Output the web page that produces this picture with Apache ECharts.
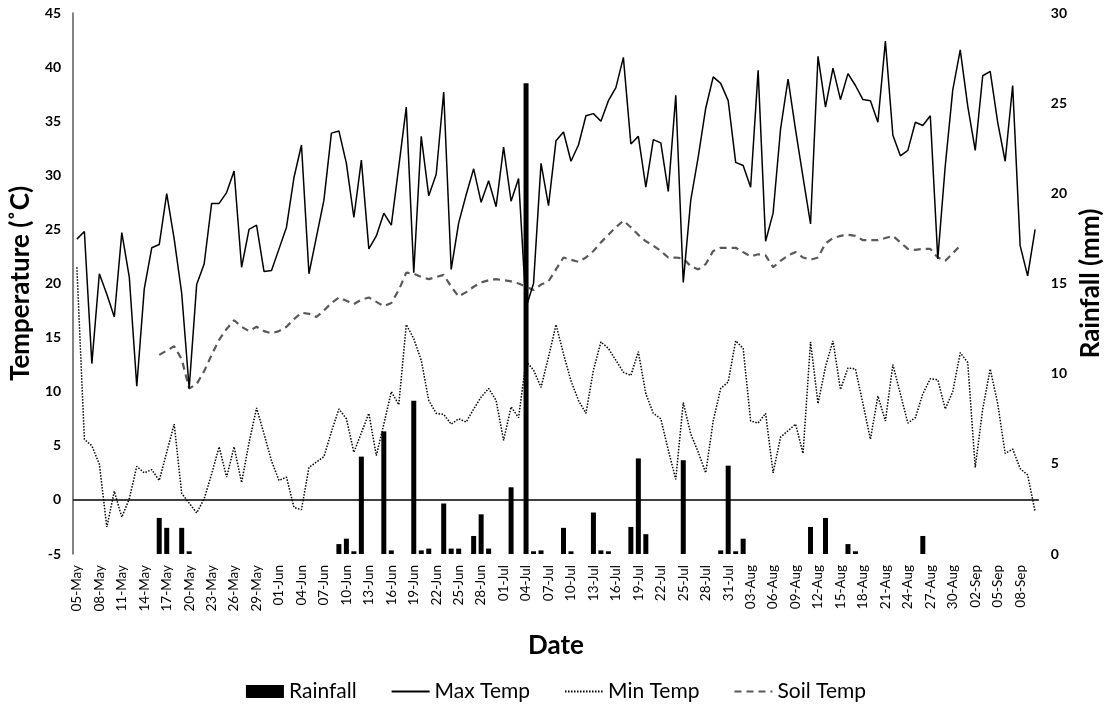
<!DOCTYPE html>
<html>
<head>
<meta charset="utf-8">
<script src="https://cdn.jsdelivr.net/npm/echarts@6/dist/echarts.min.js"></script>
<style>
  html, body { margin: 0; padding: 0; background: #fff; }
  #chart { width: 1112px; height: 708px; }
</style>
</head>
<body>
<div id="chart"></div>
<script>
// Daily weather record, 05 May - 10 Sep
const monthSpans = [['May', 5, 31], ['Jun', 1, 30], ['Jul', 1, 31], ['Aug', 1, 31], ['Sep', 1, 10]];
const dates = [];
monthSpans.forEach(([m, first, last]) => {
  for (let d = first; d <= last; d++) dates.push(String(d).padStart(2, '0') + '-' + m);
});

// Maximum air temperature (°C)
const maxTemp = [
  24.1, 24.8, 12.6, 20.9, 19.0, 16.9, 24.7, 20.6, 10.5, 19.5,
  23.3, 23.6, 28.3, 24.1, 19.1, 10.3, 19.9, 21.8, 27.4, 27.4,
  28.4, 30.4, 21.5, 25.0, 25.4, 21.1, 21.2, 23.2, 25.2, 29.8,
  32.8, 20.9, 24.3, 27.7, 33.9, 34.1, 31.1, 26.1, 31.4, 23.2,
  24.4, 26.5, 25.4, 30.8, 36.3, 21.0, 33.6, 28.1, 30.1, 37.7,
  21.3, 25.6, 28.2, 30.6, 27.5, 29.5, 27.1, 32.6, 27.6, 29.7,
  17.8, 20.0, 31.1, 27.2, 33.2, 34.0, 31.3, 32.8, 35.5, 35.7,
  35.0, 36.9, 38.1, 40.9, 32.9, 33.6, 28.9, 33.3, 33.0, 28.5,
  37.4, 20.1, 27.7, 31.7, 36.2, 39.1, 38.5, 36.9, 31.2, 30.9,
  28.9, 39.7, 23.9, 26.5, 34.3, 38.9, 34.2, 29.8, 25.5, 41.0,
  36.3, 39.9, 37.0, 39.4, 38.3, 37.0, 36.9, 34.9, 42.4, 33.7,
  31.8, 32.3, 34.9, 34.6, 35.5, 22.3, 30.9, 37.9, 41.6, 36.4,
  32.3, 39.2, 39.6, 34.9, 31.3, 38.3, 23.5, 20.7, 25.0
];

// Minimum air temperature (°C)
const minTemp = [
  21.5, 5.6, 5.0, 3.3, -2.5, 0.8, -1.6, 0.1, 3.1, 2.5,
  2.8, 1.8, 4.4, 7.0, 0.6, -0.3, -1.2, 0.1, 2.4, 4.9,
  2.1, 4.9, 1.6, 5.3, 8.5, 6.1, 3.6, 1.8, 2.1, -0.7,
  -0.9, 3.0, 3.5, 4.0, 6.3, 8.4, 7.5, 4.4, 6.2, 8.0,
  4.1, 7.0, 10.0, 8.8, 16.2, 14.9, 12.9, 9.2, 8.0, 7.9,
  7.0, 7.5, 7.2, 8.4, 9.5, 10.3, 9.2, 5.5, 8.6, 7.6,
  12.8, 12.0, 10.4, 13.2, 16.2, 13.5, 11.0, 9.2, 8.0, 12.0,
  14.6, 14.0, 12.9, 11.8, 11.5, 13.7, 9.8, 8.0, 7.5, 4.6,
  1.9, 9.0, 6.1, 4.4, 2.5, 7.3, 10.3, 10.9, 14.7, 14.0,
  7.3, 7.1, 8.0, 2.5, 5.8, 6.4, 7.0, 4.3, 14.6, 8.9,
  12.3, 14.7, 10.2, 12.2, 12.1, 8.9, 5.6, 9.6, 7.3, 12.5,
  9.8, 7.1, 7.6, 9.8, 11.2, 11.1, 8.4, 10.0, 13.6, 12.7,
  3.0, 8.4, 12.1, 8.9, 4.3, 4.7, 2.9, 2.3, -1.1
];

// Soil temperature (°C); logger ran 16 May - 31 Aug
const soilTemp = [
  null, null, null, null, null, null, null, null, null, null,
  null, 13.4, 13.8, 14.2, 13.0, 10.3, 10.7, 11.9, 13.4, 14.8,
  15.8, 16.6, 16.0, 15.6, 16.0, 15.6, 15.4, 15.6, 16.0, 16.7,
  17.3, 17.2, 16.9, 17.5, 18.2, 18.7, 18.4, 18.1, 18.5, 18.7,
  18.3, 17.9, 18.2, 19.4, 21.0, 20.9, 20.6, 20.4, 20.6, 20.8,
  19.7, 18.8, 19.2, 19.7, 20.1, 20.3, 20.4, 20.3, 20.2, 20.0,
  19.7, 19.4, 19.9, 20.2, 21.3, 22.4, 22.2, 22.0, 22.4, 23.0,
  23.8, 24.5, 25.2, 25.8, 25.2, 24.5, 23.9, 23.5, 23.0, 22.4,
  22.4, 22.3, 21.6, 21.3, 21.8, 23.0, 23.3, 23.3, 23.3, 22.9,
  22.5, 22.7, 22.6, 21.5, 22.1, 22.6, 22.9, 22.4, 22.2, 22.4,
  23.7, 24.2, 24.4, 24.5, 24.4, 24.0, 24.0, 24.0, 24.2, 24.4,
  23.8, 23.2, 23.1, 23.2, 23.2, 22.4, 22.1, 22.8, 23.5, null,
  null, null, null, null, null, null, null, null, null
];

// Daily rainfall (mm)
const rainfall = [
  0, 0, 0, 0, 0, 0, 0, 0, 0, 0,
  0, 2.0, 1.45, 0, 1.45, 0.15, 0, 0, 0, 0,
  0, 0, 0, 0, 0, 0, 0, 0, 0, 0,
  0, 0, 0, 0, 0, 0.55, 0.85, 0.15, 5.4, 0,
  0, 6.8, 0.2, 0, 0, 8.5, 0.2, 0.3, 0, 2.8,
  0.3, 0.3, 0, 1.0, 2.2, 0.3, 0, 0, 3.7, 0,
  26.1, 0.15, 0.2, 0, 0, 1.45, 0.15, 0, 0, 2.3,
  0.2, 0.15, 0, 0, 1.5, 5.3, 1.1, 0, 0, 0,
  0, 5.2, 0, 0, 0, 0, 0.2, 4.9, 0.15, 0.85,
  0, 0, 0, 0, 0, 0, 0, 0, 1.5, 0,
  2.0, 0, 0, 0.55, 0.15, 0, 0, 0, 0, 0,
  0, 0, 0, 1.0, 0, 0, 0, 0, 0, 0,
  0, 0, 0, 0, 0, 0, 0, 0, 0
];

const tempTicks = { min: -5, max: 45, interval: 5 };
const rainTicks = { min: 0, max: 30, interval: 5 };

const FONT = 'Lato';
const chart = echarts.init(document.getElementById('chart'), null, { renderer: 'canvas' });

// line entries in the legend show only the stroke, no marker
const lineOnly = { opacity: 0 };

chart.setOption({
  backgroundColor: '#ffffff',
  animation: false,
  textStyle: { fontFamily: FONT, color: '#000' },
  grid: { left: 71, right: 66, top: 13, bottom: 154, containLabel: false },
  legend: {
    bottom: 1,
    left: 'center',
    itemWidth: 38,
    itemHeight: 13,
    itemGap: 34,
    textStyle: { fontFamily: FONT, fontSize: 21, color: '#000' },
    data: [
      { name: 'Rainfall', icon: 'rect' },
      { name: 'Max Temp', itemStyle: lineOnly },
      { name: 'Min Temp', itemStyle: lineOnly },
      { name: 'Soil Temp', itemStyle: lineOnly }
    ]
  },
  xAxis: {
    type: 'category',
    data: dates,
    boundaryGap: true,
    name: 'Date',
    nameLocation: 'middle',
    nameGap: 79,
    nameTextStyle: { fontFamily: FONT, fontSize: 26, fontWeight: 'bold', color: '#000' },
    axisLine: { show: false },
    axisTick: { show: false },
    axisLabel: { interval: 2, rotate: 90, margin: 11, fontSize: 13.5, color: '#000', fontFamily: FONT },
    splitLine: { show: false }
  },
  yAxis: [
    {
      type: 'value',
      min: tempTicks.min, max: tempTicks.max, interval: tempTicks.interval,
      name: 'Temperature (˚C)',
      nameLocation: 'middle',
      nameGap: 36,
      nameRotate: 90,
      nameTextStyle: { fontFamily: FONT, fontSize: 26, fontWeight: 'bold', color: '#000' },
      axisLine: { show: true, lineStyle: { color: '#595959', width: 1.5 } },
      axisTick: { show: false },
      axisLabel: { margin: 12, fontSize: 14, fontWeight: 'bold', color: '#000', fontFamily: FONT },
      splitLine: { show: false }
    },
    {
      type: 'value',
      min: rainTicks.min, max: rainTicks.max, interval: rainTicks.interval,
      name: 'Rainfall (mm)',
      nameLocation: 'middle',
      nameGap: 29,
      nameRotate: 90,
      nameTextStyle: { fontFamily: FONT, fontSize: 26, fontWeight: 'bold', color: '#000' },
      axisLine: { show: false },
      axisTick: { show: false },
      axisLabel: { margin: 12, fontSize: 14, fontWeight: 'bold', color: '#000', fontFamily: FONT },
      splitLine: { show: false }
    }
  ],
  series: [
    {
      name: 'Rainfall',
      type: 'bar',
      yAxisIndex: 1,
      data: rainfall,
      barWidth: 5,
      itemStyle: { color: '#000' },
      z: 1
    },
    {
      name: 'Max Temp',
      type: 'line',
      yAxisIndex: 0,
      data: maxTemp,
      symbol: 'none',
      lineStyle: { color: '#000', width: 1.5 },
      itemStyle: { color: '#000' },
      z: 3,
      markLine: {
        silent: true,
        symbol: 'none',
        label: { show: false },
        lineStyle: { color: '#000', width: 1.5, type: 'solid' },
        data: [{ yAxis: 0 }]
      }
    },
    {
      name: 'Min Temp',
      type: 'line',
      yAxisIndex: 0,
      data: minTemp,
      symbol: 'none',
      lineStyle: { color: '#000', width: 1.5, type: [1.5, 1.5] },
      itemStyle: { color: '#000' },
      z: 3
    },
    {
      name: 'Soil Temp',
      type: 'line',
      yAxisIndex: 0,
      data: soilTemp,
      symbol: 'none',
      connectNulls: false,
      lineStyle: { color: '#595959', width: 2.2, type: [7, 5] },
      itemStyle: { color: '#595959' },
      z: 2
    }
  ]
});
</script>
</body>
</html>
